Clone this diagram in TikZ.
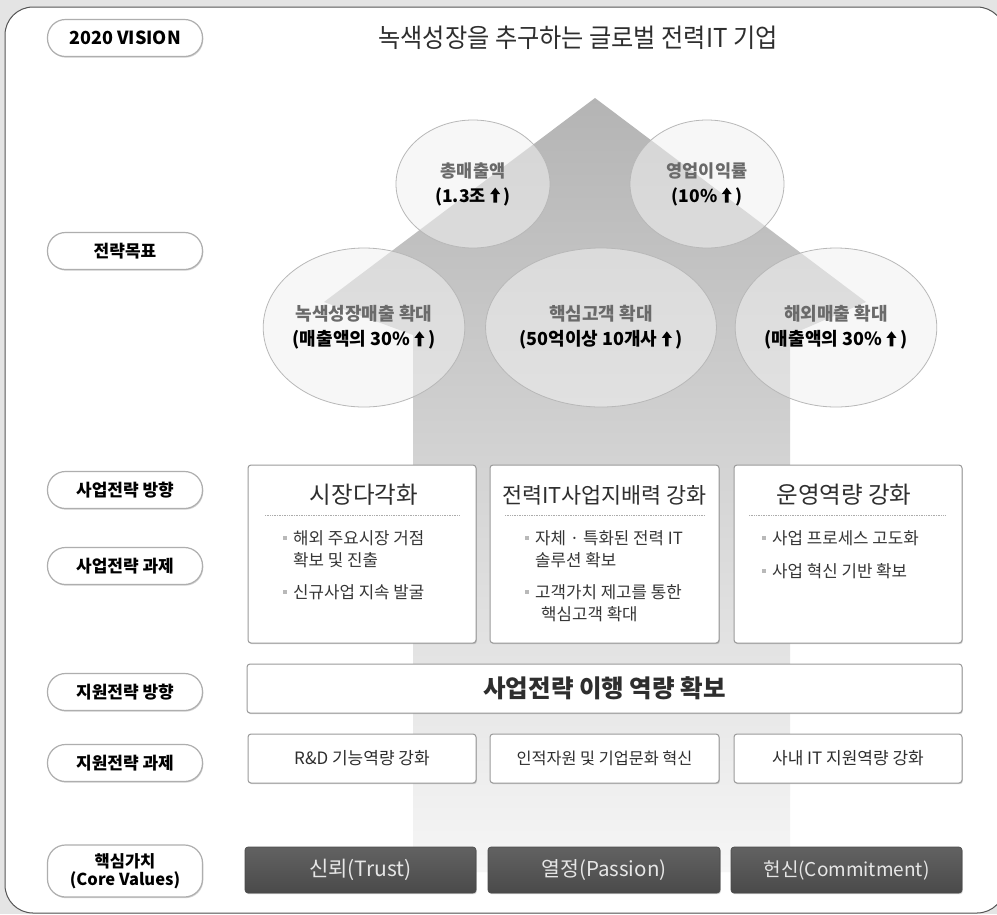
\documentclass[tikz,border=0pt]{standalone}
\usepackage{fontspec}
\setmainfont{Noto Sans CJK KR}
\newfontfamily\medfont{Noto Sans CJK KR}
\usetikzlibrary{shapes.geometric,shadows}
\definecolor{bgout}{HTML}{E4E4E4}
\definecolor{framec}{HTML}{555555}
\definecolor{arrtop}{HTML}{B4B4B4}
\definecolor{arrbot}{HTML}{F6F6F6}
\definecolor{circfill}{HTML}{F1F1F1}
\definecolor{circline}{HTML}{B8B8B8}
\definecolor{boxline}{HTML}{9A9A9A}
\definecolor{txtdark}{HTML}{2E2E2E}
\definecolor{txtmid}{HTML}{363636}
\definecolor{txtgray}{HTML}{6A6A6A}
\definecolor{coretop}{HTML}{626262}
\definecolor{corebot}{HTML}{4A4A4A}
\definecolor{coretxt}{HTML}{E6E6E6}
\newcommand{\upar}{\hspace{0.25em}\tikz[x=1pt,y=1pt,baseline=0pt]\fill[black,opacity=1]
  (-1.8,-0.5) -- (1.8,-0.5) -- (1.8,8) -- (5,8) -- (0,14.5) -- (-5,8) -- (-1.8,8) -- cycle;\hspace{0.2em}}
\newcommand{\fs}[2]{\fontsize{#1}{#2}\selectfont}
\begin{document}
\begin{tikzpicture}[x=1pt,y=-1pt,
  shdw/.style={drop shadow={shadow xshift=0.8pt,shadow yshift=-1.2pt,opacity=0.28,fill=black!60}},
  pill/.style={draw=boxline!80,line width=1.2pt,fill=white,rounded corners=18pt,
    minimum width=155pt,minimum height=37pt,inner sep=0pt,align=center,
    font=\fs{17}{19}\bfseries,text=black,shdw},
  circ/.style={ellipse,draw=circline,line width=0.8pt,fill=circfill,fill opacity=0.55,
    text opacity=1,inner sep=0pt,align=center,font=\fs{17.5}{25}\bfseries},
  sbox/.style={draw=boxline,line width=1pt,fill=white,rounded corners=3pt,inner sep=0pt,shdw},
  ttl/.style={font=\medfont\fs{23.5}{25},text=txtdark,inner sep=0pt},
  bul/.style={anchor=west,font=\medfont\fs{16.8}{18},text=txtmid,inner sep=0pt},
  task/.style={font=\medfont\fs{17}{18},text=txtdark,inner sep=0pt},
  core/.style={draw=corebot,line width=0.6pt,top color=coretop,bottom color=corebot,
    rounded corners=3pt,inner sep=0pt,font=\medfont\fs{21}{22},text=coretxt,shdw},
  bsq/.style={fill=gray!55}
]
\useasboundingbox (0,0) rectangle (997,914);
\fill[bgout] (0,0) rectangle (997,914);
\draw[fill=white,draw=framec,line width=1pt,rounded corners=28pt] (5,7) rectangle (1005,913);

% big arrow
\shade[top color=arrtop,bottom color=arrbot]
  (595,98) -- (866,302) -- (790,335) -- (790,872) -- (413,872) -- (413,335) -- (324,302) -- cycle;

% left labels
\node[pill,font=\fs{18}{20}\bfseries] (lvision) at (125,38) {2020 VISION};
\node[pill] (lgoal) at (125,251) {전략목표};
\node[pill] (lbizdir) at (125,490) {사업전략 방향};
\node[pill] (lbiztask) at (125,566) {사업전략 과제};
\node[pill] (lsupdir) at (125,692) {지원전략 방향};
\node[pill] (lsuptask) at (125,763) {지원전략 과제};
\node[pill,minimum height=52pt,font=\fs{16.5}{19}\bfseries] (lcore) at (125,871) {핵심가치\\[-1pt]{\fs{16.5}{19}(Core Values)}};

% title
\node[inner sep=0pt,text=txtdark] (title) at (578,38) {\scalebox{0.93}[1]{\medfont\fs{26}{28}녹색성장을 추구하는 글로벌 전력IT 기업}};

% goal ellipses
\node[circ,minimum width=154pt,minimum height=128pt] (g1) at (473,184)
  {\textcolor{txtgray}{총매출액}\\(1.3조\upar)};
\node[circ,minimum width=154pt,minimum height=128pt] (g2) at (707,184)
  {\textcolor{txtgray}{영업이익률}\\(10\%\upar)};
\node[circ,minimum width=192pt,minimum height=159pt,font=\fs{18}{25}\bfseries] (g3) at (364,327.5)
  {\textcolor{txtgray}{녹색성장매출 확대}\\(매출액의 30\%\upar)};
\node[circ,minimum width=192pt,minimum height=159pt,font=\fs{18}{25}\bfseries] (g4) at (601,327.5)
  {\textcolor{txtgray}{핵심고객 확대}\\(50억이상 10개사\upar)};
\node[circ,minimum width=192pt,minimum height=159pt,font=\fs{18}{25}\bfseries] (g5) at (836,327.5)
  {\textcolor{txtgray}{해외매출 확대}\\(매출액의 30\%\upar)};

% business strategy boxes
\node[sbox,minimum width=228pt,minimum height=178pt] (s1) at (362,554) {};
\node[sbox,minimum width=229pt,minimum height=178pt] (s2) at (604.5,554) {};
\node[sbox,minimum width=228pt,minimum height=178pt] (s3) at (848,554) {};
\node[ttl] (t1) at (364,495) {시장다각화};
\node[ttl,font=\medfont\fs{21.8}{23}] (t2) at (604.5,495) {전력IT사업지배력 강화};
\node[ttl] (t3) at (844,495) {운영역량 강화};
\draw[densely dotted,gray!65,line width=0.7pt] (265,515) -- (460,515);
\draw[densely dotted,gray!65,line width=0.7pt] (505,515) -- (704,515);
\draw[densely dotted,gray!65,line width=0.7pt] (749,515) -- (946,515);

\fill[bsq] (283,536) rectangle +(4,4);
\node[bul] (b1a) at (293,538) {해외 주요시장 거점};
\node[bul] (b1b) at (293,560) {확보 및 진출};
\fill[bsq] (283,590) rectangle +(4,4);
\node[bul] (b1c) at (293,592) {신규사업 지속 발굴};

\fill[bsq] (525,536) rectangle +(4,4);
\node[bul] (b2a) at (535,538) {자체 · 특화된 전력 IT};
\node[bul] (b2b) at (535,560) {솔루션 확보};
\fill[bsq] (525,590) rectangle +(4,4);
\node[bul] (b2c) at (535,592) {고객가치 제고를 통한};
\node[bul] (b2d) at (541,614) {핵심고객 확대};

\fill[bsq] (762,536) rectangle +(4,4);
\node[bul] (b3a) at (772,538) {사업 프로세스 고도화};
\fill[bsq] (762,569) rectangle +(4,4);
\node[bul] (b3b) at (772,571) {사업 혁신 기반 확보};

% support strategy direction
\node[sbox,minimum width=715pt,minimum height=49pt,font=\fs{24.5}{26}\bfseries,text=txtdark] (sdir) at (604.5,688.5) {사업전략 이행 역량 확보};

% support tasks
\node[sbox,minimum width=228pt,minimum height=49pt] (k1) at (362,758.5) {};
\node[sbox,minimum width=229pt,minimum height=49pt] (k2) at (604.5,758.5) {};
\node[sbox,minimum width=228pt,minimum height=49pt] (k3) at (848,758.5) {};
\node[task] (k1t) at (k1) {R\&D 기능역량 강화};
\node[task,font=\medfont\fs{16.3}{18}] (k2t) at (k2) {인적자원 및 기업문화 혁신};
\node[task] (k3t) at (k3) {사내 IT 지원역량 강화};

% core values
\node[core,minimum width=231pt,minimum height=46pt] (c1) at (360.5,870) {신뢰(Trust)};
\node[core,minimum width=232pt,minimum height=46pt,font=\medfont\fs{20.5}{22}] (c2) at (604,870) {열정(Passion)};
\node[core,minimum width=231pt,minimum height=46pt,font=\medfont\fs{19}{22}] (c3) at (846.5,870) {헌신(Commitment)};
\end{tikzpicture}
\end{document}
